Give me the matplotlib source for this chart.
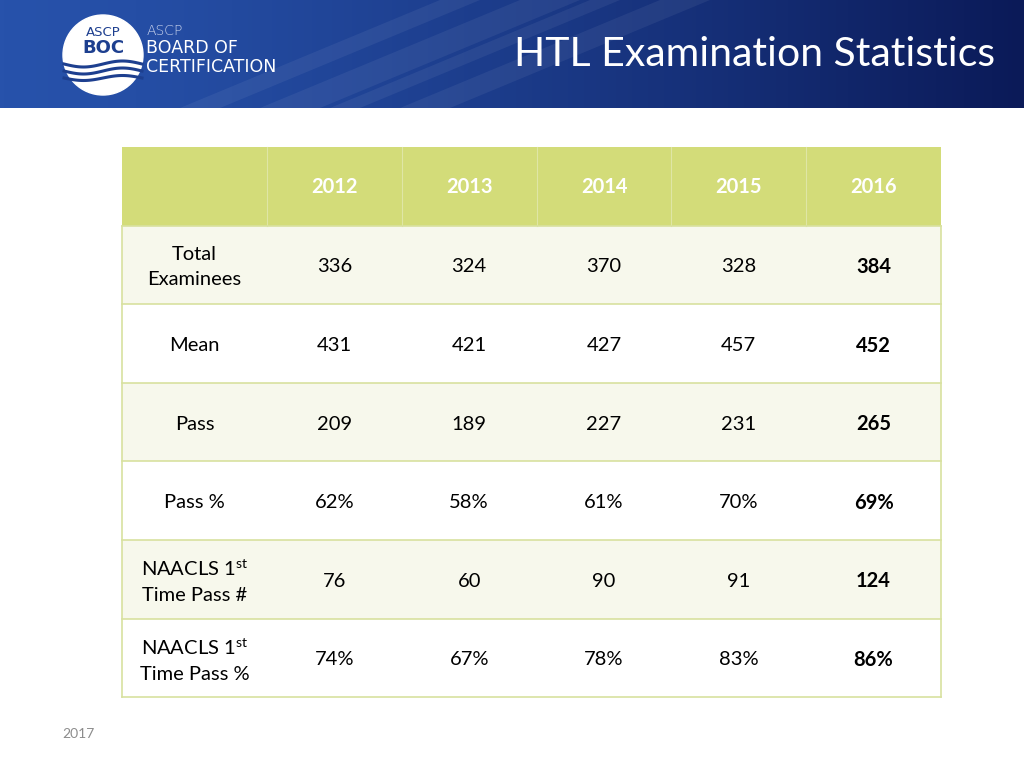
import numpy as np
import matplotlib.pyplot as plt
from matplotlib.patches import Rectangle, Circle, Polygon

plt.rcParams['font.family'] = ['Lato', 'DejaVu Sans']
plt.rcParams['mathtext.fontset'] = 'custom'
plt.rcParams['mathtext.rm'] = 'Lato'

# table data
years = ["2012", "2013", "2014", "2015", "2016"]
row_labels = ["Total\nExaminees", "Mean", "Pass", "Pass %",
              "NAACLS 1$^{\\mathrm{st}}$\nTime Pass #",
              "NAACLS 1$^{\\mathrm{st}}$\nTime Pass %"]
total_examinees = [336, 324, 370, 328, 384]
mean_score = [431, 421, 427, 457, 452]
pass_count = [209, 189, 227, 231, 265]
pass_pct = [62, 58, 61, 70, 69]
naacls_pass = [76, 60, 90, 91, 124]
naacls_pct = [74, 67, 78, 83, 86]

rows = [
    [str(v) for v in total_examinees],
    [str(v) for v in mean_score],
    [str(v) for v in pass_count],
    [f"{v}%" for v in pass_pct],
    [str(v) for v in naacls_pass],
    [f"{v}%" for v in naacls_pct],
]

fig = plt.figure(figsize=(10.24, 7.68), dpi=100)
ax = fig.add_axes([0, 0, 1, 1])
ax.set_xlim(0, 1024)
ax.set_ylim(768, 0)
ax.axis('off')

# header banner with gradient
grad = np.linspace(0, 1, 256) ** 1.3
c0 = np.array([0x27, 0x52, 0xab]) / 255
c1 = np.array([0x0b, 0x1a, 0x58]) / 255
img = (c0[None, :] * (1 - grad[:, None]) + c1[None, :] * grad[:, None])[None, :, :]
ax.imshow(img, extent=[0, 1024, 108, 0], aspect='auto', zorder=0)
# light streaks
for x0, w in [(180, 40), (260, 60), (330, 30), (400, 50)]:
    ax.add_patch(Polygon([[x0, 108], [x0 + w, 108], [x0 + w + 260, 0], [x0 + 260, 0]],
                         closed=True, color='white', alpha=0.06, lw=0, zorder=1))

# logo
ax.add_patch(Circle((103, 55), 40, color='white', zorder=2))
ax.text(103, 33, "ASCP", ha='center', va='center', fontsize=9.5, color='#1d3f8f',
        family='DejaVu Sans', zorder=3)
ax.text(103, 48, "BOC", ha='center', va='center', fontsize=13, color='#1d3f8f',
        family='DejaVu Sans', fontweight='bold', zorder=3)
xs = np.linspace(64, 142, 60)
for dy, amp in [(64, 3), (71, 3), (78, 2.5)]:
    ax.plot(xs, dy + amp * np.sin((xs - 64) / 78 * 2 * np.pi), color='#1d3f8f',
            lw=2.2, zorder=3)
ax.text(147, 31, "ASCP", fontsize=10, color='#cfd8ef', family='DejaVu Sans',
        va='center', fontweight='light', zorder=3)
ax.text(146, 48, "BOARD OF", fontsize=12.5, color='white', family='DejaVu Sans',
        va='center', zorder=3)
ax.text(146, 67, "CERTIFICATION", fontsize=12.5, color='white', family='DejaVu Sans',
        va='center', zorder=3)

ax.text(755, 54, "HTL Examination Statistics", ha='center', va='center',
        fontsize=29.5, color='white', zorder=3)

# table
left, top = 122, 147
col_w = [145] + [134.8] * 5
row_h = 78.6
col_x = np.concatenate([[left], left + np.cumsum(col_w)])
header_c = '#d3dc79'
band_c = '#f7f8ec'
line_c = '#d8e19f'
fs = 14.5

# header row
ax.add_patch(Rectangle((col_x[0], top), col_x[-1] - col_x[0], row_h,
                       color=header_c, lw=0, zorder=2))
for j in range(1, len(col_x) - 1):
    ax.plot([col_x[j], col_x[j]], [top, top + row_h], color='#dfe6a5', lw=0.8, zorder=3)
for j, yr in enumerate(years):
    ax.text((col_x[j + 1] + col_x[j + 2]) / 2, top + row_h / 2 + 1, yr, ha='center',
            va='center', fontsize=fs, color='white', fontweight='bold', zorder=4)

for i, (lab, vals) in enumerate(zip(row_labels, rows)):
    y0 = top + row_h * (i + 1)
    fc = band_c if i % 2 == 0 else 'white'
    ax.add_patch(Rectangle((col_x[0], y0), col_x[-1] - col_x[0], row_h,
                           facecolor=fc, edgecolor='none', zorder=2))
    ax.plot([col_x[0], col_x[-1]], [y0, y0], color=line_c, lw=1.2, zorder=3)
    yc = y0 + row_h / 2 + 2
    ax.text((col_x[0] + col_x[1]) / 2, yc, lab, ha='center', va='center',
            fontsize=fs, color='black', linespacing=1.55, zorder=4)
    for j, v in enumerate(vals):
        ax.text((col_x[j + 1] + col_x[j + 2]) / 2, yc, v, ha='center', va='center',
                fontsize=fs, color='black',
                fontweight='bold' if j == len(vals) - 1 else 'normal', zorder=4)

bottom = top + row_h * (len(rows) + 1)
ax.plot([col_x[0], col_x[-1]], [bottom, bottom], color=line_c, lw=1.2, zorder=3)
ax.plot([col_x[0], col_x[0]], [top + row_h, bottom], color=line_c, lw=1.2, zorder=3)
ax.plot([col_x[-1], col_x[-1]], [top + row_h, bottom], color=line_c, lw=1.2, zorder=3)

ax.text(78, 734, "2017", ha='center', va='center', fontsize=10, color='#8c8c8c')

fig.savefig("out.png", dpi=100)
